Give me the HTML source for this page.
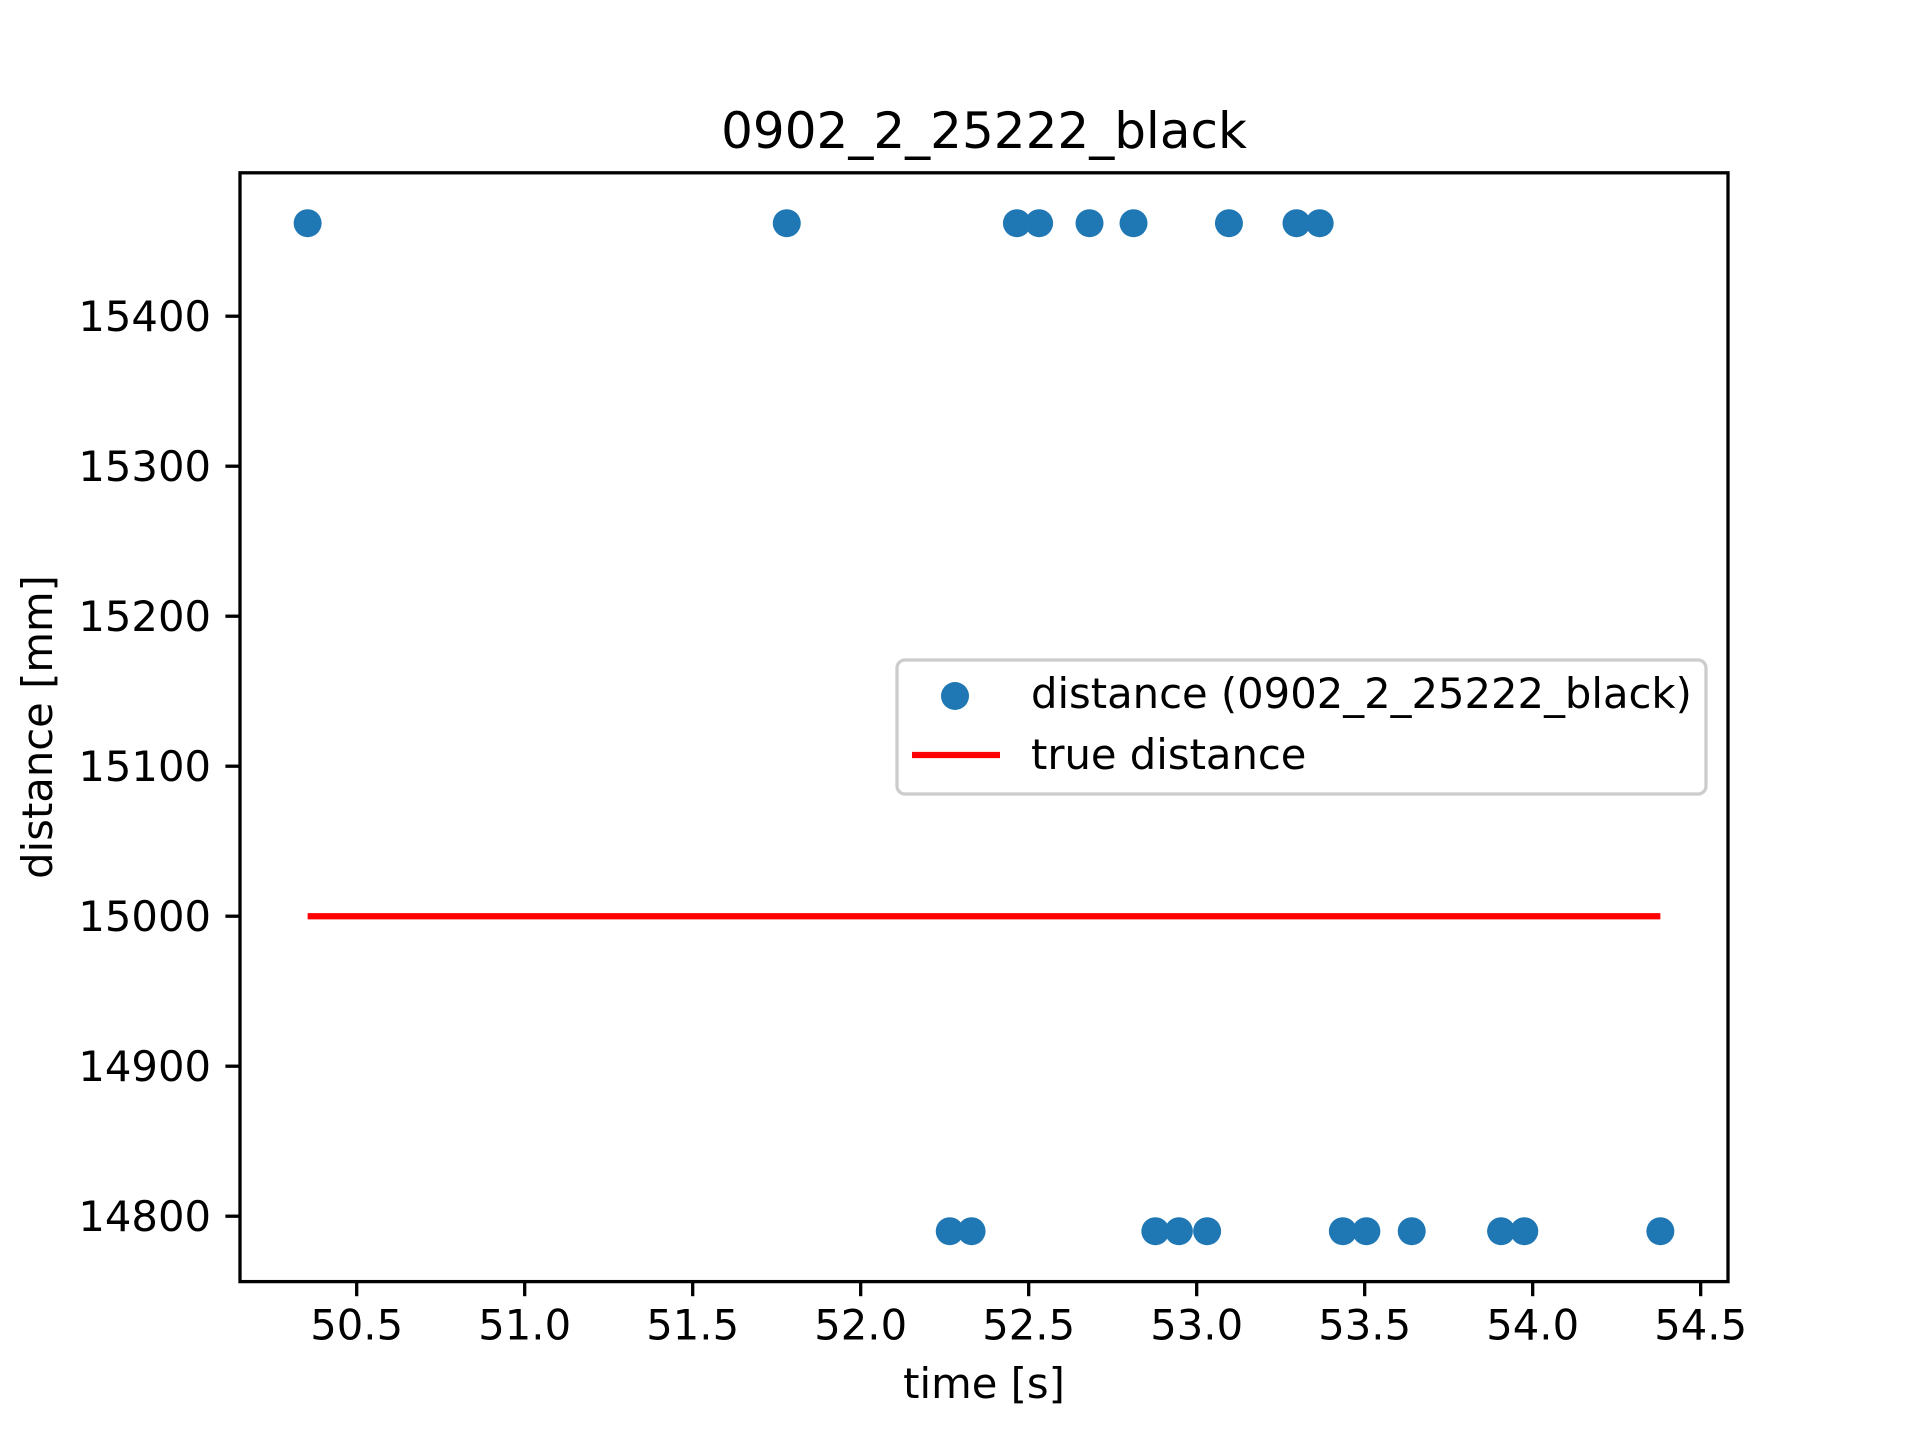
<!DOCTYPE html>
<html><head><meta charset="utf-8"><style>
html,body{margin:0;padding:0;background:#fff;}
svg{display:block;font-family:"DejaVu Sans","Liberation Sans",sans-serif;}
</style></head><body>
<svg id="chart" width="1920" height="1440" viewBox="0 0 1920 1440" xmlns="http://www.w3.org/2000/svg">
<rect width="1920" height="1440" fill="#fff"/>
<text x="984" y="148" font-size="50" text-anchor="middle">0902_2_25222_black</text>
<g id="marks"></g>
<g id="axes"></g>
<text x="984" y="1398" font-size="41.7" text-anchor="middle">time [s]</text>
<text transform="translate(52,727) rotate(-90)" font-size="41.7" text-anchor="middle">distance [mm]</text>
<g>
<rect x="897" y="660" width="809" height="134" rx="8" fill="#fff" fill-opacity="0.8" stroke="#cccccc" stroke-width="3.3"/>
<circle cx="955" cy="696" r="14" fill="#1f77b4"/>
<text x="1031" y="708" font-size="41.7">distance (0902_2_25222_black)</text>
<line x1="912" y1="755" x2="1000" y2="755" stroke="#ff0000" stroke-width="6.25"/>
<text x="1031" y="769" font-size="41.7">true distance</text>
</g>
</svg>
<script>
const timesTop = [50.354, 51.780, 52.465, 52.531, 52.681, 52.812, 53.096, 53.297, 53.366];
const timesBottom = [52.265, 52.330, 52.877, 52.947, 53.031, 53.435, 53.505, 53.640, 53.906, 53.975, 54.380];
const distTop = 15462;
const distBottom = 14790;
const trueDistance = 15000;
const trueStart = 50.354;
const trueEnd = 54.380;
const xTicks = [50.5, 51.0, 51.5, 52.0, 52.5, 53.0, 53.5, 54.0, 54.5];
const yTicks = [14800, 14900, 15000, 15100, 15200, 15300, 15400];

const L=240, R=1728, T=172.8, B=1281.6;
const allX = timesTop.concat(timesBottom, [trueStart, trueEnd]);
const allY = [distTop, distBottom, trueDistance];
let x0=Math.min(...allX), x1=Math.max(...allX); const xm=(x1-x0)*0.05; x0-=xm; x1+=xm;
let y0=Math.min(...allY), y1=Math.max(...allY); const ym=(y1-y0)*0.05; y0-=ym; y1+=ym;
const sx=v=>L+(v-x0)/(x1-x0)*(R-L);
const sy=v=>B-(v-y0)/(y1-y0)*(B-T);
const NS='http://www.w3.org/2000/svg';
const marks=document.getElementById('marks');
const axes=document.getElementById('axes');
function mk(tag,attrs,parent){const e=document.createElementNS(NS,tag);for(const k in attrs)e.setAttribute(k,attrs[k]);parent.appendChild(e);return e;}

const tl=mk('line',{x1:sx(trueStart),x2:sx(trueEnd),y1:sy(trueDistance),y2:sy(trueDistance),stroke:'#ff0000','stroke-width':6.25},marks);



timesTop.forEach(t=>{const c=mk('circle',{cx:sx(t),cy:sy(distTop),r:14,fill:'#1f77b4'},marks);

});
timesBottom.forEach(t=>{const c=mk('circle',{cx:sx(t),cy:sy(distBottom),r:14,fill:'#1f77b4'},marks);

});

xTicks.forEach(v=>{const x=sx(v);
const tk=mk('line',{x1:x,x2:x,y1:B,y2:B+14.6,stroke:'#000','stroke-width':3.3},axes);


const lb=mk('text',{x:x,y:B+58,'font-size':41.7,'text-anchor':'middle'},axes);lb.textContent=v.toFixed(1);

});
yTicks.forEach(v=>{const y=sy(v);
const tk=mk('line',{x1:L-14.6,x2:L,y1:y,y2:y,stroke:'#000','stroke-width':3.3},axes);


const lb=mk('text',{x:L-29,y:y+15,'font-size':41.7,'text-anchor':'end'},axes);lb.textContent=String(v);

});
const fr=mk('rect',{x:L,y:T,width:R-L,height:B-T,fill:'none',stroke:'#000','stroke-width':3.3},axes);


</script>
</body></html>
